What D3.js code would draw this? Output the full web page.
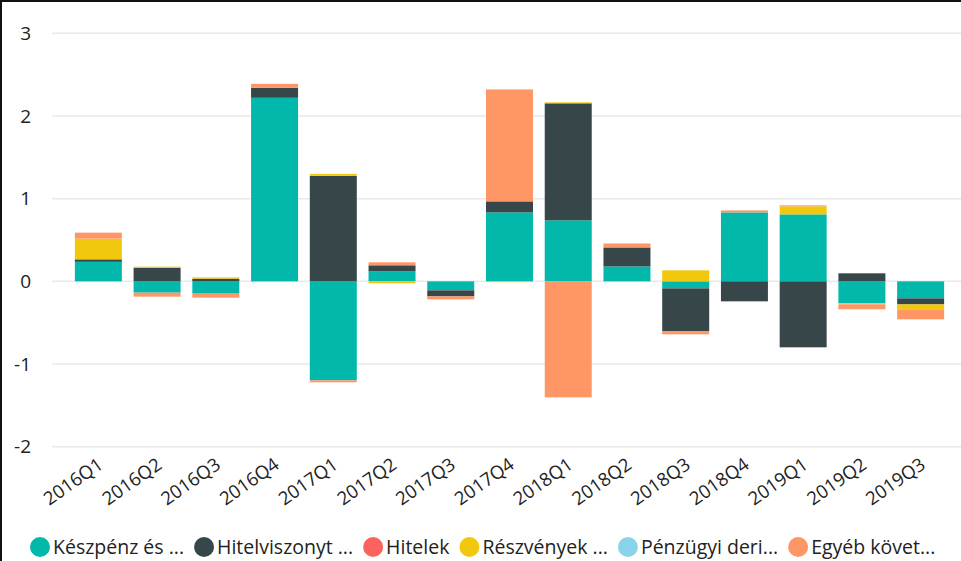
<!DOCTYPE html>
<html>
<head>
<meta charset="utf-8">
<script src="https://cdn.jsdelivr.net/npm/d3@7"></script>
<style>
  body { margin: 0; background: #fff; }
  svg { display: block; font-family: "Open Sans", sans-serif; }
</style>
</head>
<body>
<div id="chart"></div>
<script>
// Stacked (diverging) quarterly bar chart

var quarters = ["2016Q1", "2016Q2", "2016Q3", "2016Q4", "2017Q1", "2017Q2", "2017Q3", "2017Q4",
    "2018Q1", "2018Q2", "2018Q3", "2018Q4", "2019Q1", "2019Q2", "2019Q3"];

var keszpenz = [0.236, -0.137, -0.149, 2.22, -1.197, 0.121, -0.109, 0.834, 0.738, 0.18, -0.085, 0.834, 0.81, -0.266, -0.206];
var hitelviszonyt = [0.03, 0.165, 0.032, 0.121, 1.276, 0.073, -0.073, 0.133, 1.415, 0.23, -0.52, -0.242, -0.798, 0.097, -0.073];
var hitelek = [0, 0, 0, 0, 0, 0, 0, 0, 0, 0, 0, 0, 0, 0, 0];
var reszvenyek = [0.25, 0.012, 0.016, -0.008, 0.024, -0.024, 0, -0.01, 0.012, 0, 0.133, 0, 0.097, -0.012, -0.06];
var derivativ = [0, 0, 0, 0, 0, 0, 0, 0, 0, 0, 0, 0, 0, 0, 0];
var egyeb = [0.073, -0.048, -0.048, 0.048, -0.024, 0.036, -0.036, 1.354, -1.403, 0.048, -0.036, 0.024, 0.012, -0.06, -0.121];

var seriesNames = ["Készpénz és ...", "Hitelviszonyt ...", "Hitelek", "Részvények ...", "Pénzügyi deri...", "Egyéb követ..."];
var yTicks = [-2, -1, 0, 1, 2, 3];

var colors = ["#01B8AA", "#374649", "#FD625E", "#F2C80F", "#8AD4EB", "#FE9666"];

var svgWidth = 961;
var svgHeight = 561;

var svg = d3.select("#chart")
    .append("svg")
    .attr("width", svgWidth)
    .attr("height", svgHeight);

// build rows for d3.stack
var allSeries = [keszpenz, hitelviszonyt, hitelek, reszvenyek, derivativ, egyeb];
var rows = quarters.map(function(q, i) {
    var row = { quarter: q };
    seriesNames.forEach(function(s, j) { row[s] = allSeries[j][i]; });
    return row;
});

var stacked = d3.stack()
    .keys(seriesNames)
    .offset(d3.stackOffsetDiverging)(rows);

// scales
var xScale = d3.scaleBand()
    .domain(quarters)
    .range([69, 950])
    .paddingInner(0.2)
    .paddingOuter(0.1);

var yScale = d3.scaleLinear()
    .domain([-2, 3])
    .range([446.7, 33.3]);

// gridlines
svg.append("g")
    .selectAll("line")
    .data(yTicks)
    .enter()
    .append("line")
    .attr("x1", 52)
    .attr("x2", svgWidth)
    .attr("y1", d => yScale(d))
    .attr("y2", d => yScale(d))
    .attr("stroke", "#e9e9e9")
    .attr("stroke-width", 1.5);

// y labels (plain hyphen, no decimals)
var yAxis = d3.axisLeft(yScale)
    .tickValues(yTicks)
    .tickFormat(d => String(d))
    .tickSize(0)
    .tickPadding(0);
var yG = svg.append("g")
    .attr("transform", "translate(31,0)")
    .call(yAxis);
yG.select(".domain").remove();
yG.selectAll("text")
    .attr("font-family", "Open Sans, sans-serif")
    .attr("font-size", 19)
    .attr("fill", "#222");

// bars
svg.append("g")
    .selectAll("g")
    .data(stacked)
    .enter()
    .append("g")
    .attr("fill", (d, i) => colors[i])
    .selectAll("rect")
    .data(d => d)
    .enter()
    .append("rect")
    .attr("x", d => xScale(d.data.quarter))
    .attr("width", xScale.bandwidth())
    .attr("y", d => yScale(Math.max(d[0], d[1])))
    .attr("height", d => Math.abs(yScale(d[0]) - yScale(d[1])));

// x labels
var xAxis = d3.axisBottom(xScale).tickSize(0).tickPadding(0);
var xG = svg.append("g")
    .attr("transform", "translate(-2,456)")
    .call(xAxis);
xG.select(".domain").remove();
xG.selectAll("text")
    .attr("font-family", "Open Sans, sans-serif")
    .attr("font-size", 18.5)
    .attr("fill", "#222")
    .attr("text-anchor", "end")
    .attr("dy", "0.75em")
    .attr("transform", "rotate(-35)");

// legend
var legend = svg.append("g").attr("transform", "translate(0,547)");
var lx = 30;
seriesNames.forEach(function(name, i) {
    legend.append("circle")
        .attr("cx", lx + 10)
        .attr("cy", 0)
        .attr("r", 10)
        .attr("fill", colors[i]);
    var t = legend.append("text")
        .attr("x", lx + 23)
        .attr("y", 6.5)
        .attr("font-size", 19.5)
        .attr("fill", "#222")
        .text(name);
    lx = lx + 23 + t.node().getComputedTextLength() + 10;
});

// frame
svg.append("rect")
    .attr("x", 1)
    .attr("y", 1)
    .attr("width", svgWidth + 10)
    .attr("height", svgHeight + 10)
    .attr("fill", "none")
    .attr("stroke", "#111")
    .attr("stroke-width", 2);
</script>
</body>
</html>
